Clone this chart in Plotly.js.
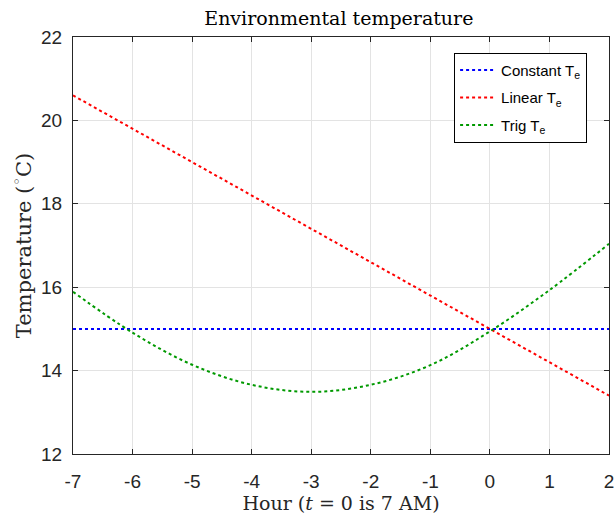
<!DOCTYPE html>
<html>
<head>
<meta charset="utf-8">
<script src="https://cdn.plot.ly/plotly-3.0.1.min.js"></script>
<style>html,body{margin:0;padding:0;background:#fff;}#chart{width:615px;height:514px;}</style>
</head>
<body>
<div id="chart"></div>
<script>
// Data
const hours = [-7, -6, -5, -4, -3, -2, -1, 0, 1, 2];
const constantTe = [15, 15, 15, 15, 15, 15, 15, 15, 15, 15];
const linearTe = [20.6, 19.8, 19.0, 18.2, 17.4, 16.6, 15.8, 15.0, 14.2, 13.4];
const trigTe = [15.89, 14.91, 14.14, 13.66, 13.49, 13.66, 14.13, 14.94, 15.93, 17.04];
const seriesNames = ['Constant T<sub>e</sub>', 'Linear T<sub>e</sub>', 'Trig T<sub>e</sub>'];
const xTicks = [-7, -6, -5, -4, -3, -2, -1, 0, 1, 2];
const yTicks = [12, 14, 16, 18, 20, 22];

const sans = 'Liberation Sans, Arial, sans-serif';
const serif = 'DejaVu Serif, Liberation Serif, serif';
const axisCol = '#262626';

const traces = [
  {x: hours, y: constantTe, name: seriesNames[0], legendgroup: 'a', mode: 'lines', line: {color: '#0000ff', width: 2, dash: 'dot'}},
  {x: hours, y: linearTe, name: seriesNames[1], legendgroup: 'b', mode: 'lines', line: {color: '#ff0000', width: 2, dash: 'dot'}},
  {x: hours, y: trigTe, name: seriesNames[2], legendgroup: 'c', mode: 'lines', line: {color: '#009900', width: 2, dash: 'dot', shape: 'spline', smoothing: 1}}
];

const axisCommon = {
  showline: true, linecolor: axisCol, linewidth: 1, mirror: 'ticks',
  ticks: 'inside', ticklen: 5, tickcolor: axisCol, tickwidth: 1,
  showgrid: true, gridcolor: '#e3e3e3', gridwidth: 1, zeroline: false,
  tickfont: {family: sans, size: 19, color: axisCol}
};

const layout = {
  width: 615, height: 514,
  margin: {l: 73, r: 6, t: 37, b: 60},
  paper_bgcolor: '#ffffff', plot_bgcolor: '#ffffff',
  title: {text: 'Environmental temperature', font: {family: serif, size: 19, color: '#000'}, x: 0.551, xanchor: 'center', y: 0.965, yanchor: 'middle'},
  xaxis: Object.assign({}, axisCommon, {
    range: [-7, 2], tickvals: xTicks, ticktext: xTicks.map(String), ticklabelstandoff: 10,
    title: {text: 'Hour (<i>t</i> = 0 is 7 AM)', font: {family: serif, size: 19, color: axisCol}, standoff: 2}
  }),
  yaxis: Object.assign({}, axisCommon, {
    range: [12, 22], tickvals: yTicks, ticktext: yTicks.map(String), ticklabelstandoff: 6,
    title: {text: 'Temperature (<sup>◦</sup>C)', font: {family: serif, size: 21, color: axisCol}, standoff: 3}
  }),
  showlegend: true,
  legend: {
    x: 0.711, y: 0.962, xanchor: 'left', yanchor: 'top',
    bgcolor: '#ffffff', bordercolor: '#000000', borderwidth: 1,
    font: {family: sans, size: 15, color: '#000'},
    tracegroupgap: 5, itemwidth: 36
  }
};

Plotly.newPlot('chart', traces, layout, {displayModeBar: false, staticPlot: true});
</script>
</body>
</html>
